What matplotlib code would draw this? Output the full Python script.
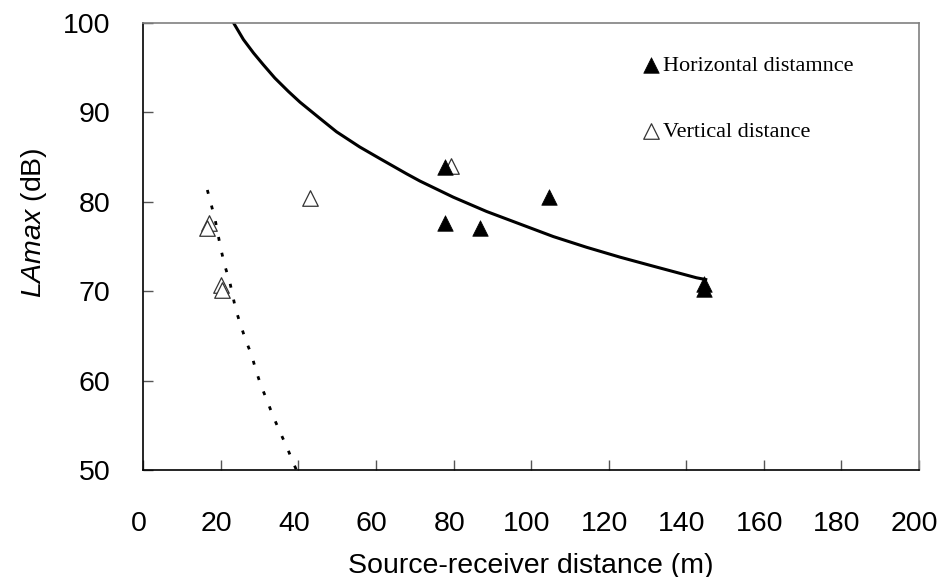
import numpy as np
import matplotlib
matplotlib.use("Agg")
import matplotlib.pyplot as plt
from matplotlib.transforms import ScaledTranslation

plt.rcParams["mathtext.fontset"] = "custom"
plt.rcParams["mathtext.it"] = "Liberation Sans:italic"

horiz_dist = [77.7, 104.6, 77.7, 86.9, 144.6, 144.6]
horiz_lamax = [83.9, 80.5, 77.6, 77.0, 70.8, 70.2]

vert_dist = [17.0, 16.5, 20.0, 20.3, 43.0, 79.3]
vert_lamax = [77.6, 77.0, 70.7, 70.1, 80.4, 84.0]

# trend lines
horiz_trend_x = [23.2, 25.8, 28.4, 30.9, 33.9, 37.4, 40.4, 45.5, 49.8, 55.8, 61.0,
                 67.9, 71.3, 79.9, 88.5, 97.1, 105.7, 114.3, 122.9, 131.4, 142.6, 145.0]
horiz_trend_y = [100.0, 98.1, 96.6, 95.3, 93.8, 92.3, 91.1, 89.3, 87.8, 86.1, 84.8,
                 83.1, 82.3, 80.5, 78.9, 77.5, 76.1, 74.9, 73.8, 72.8, 71.5, 71.3]

vert_trend_x = [16.5, 17.6, 18.5, 19.9, 20.9, 22.3, 23.8, 25.1, 26.5, 27.9, 29.0,
                30.3, 31.8, 33.4, 35.1, 37.0, 38.5, 39.5]
vert_trend_y = [81.3, 79.5, 78.0, 74.9, 73.0, 71.0, 68.0, 66.2, 64.4, 62.9, 61.2,
                59.5, 57.9, 56.1, 54.4, 52.6, 51.0, 50.0]

xticks = list(range(0, 201, 20))
yticks = list(range(50, 101, 10))

fig = plt.figure(figsize=(9.4, 5.77), dpi=100)
ax = fig.add_axes([0.1525, 0.1849, 0.8252, 0.7761])

ax.plot(horiz_trend_x, horiz_trend_y, color="black", lw=2.2, zorder=2)
ax.plot(vert_trend_x, vert_trend_y, color="black", lw=2.0, ls=(0, (1.4, 4.4)), zorder=2)

h2 = ax.scatter(vert_dist, vert_lamax, marker="^", s=125, facecolor="white",
                edgecolor="#333333", linewidth=0.9, zorder=3, label="Vertical distance")
h1 = ax.scatter(horiz_dist, horiz_lamax, marker="^", s=125, facecolor="black",
                edgecolor="black", linewidth=0.5, zorder=4, label="Horizontal distamnce")

ax.set_xlim(0, 200)
ax.set_ylim(50, 100)
ax.set_xticks(xticks)
ax.set_yticks(yticks)

for side in ["left", "bottom"]:
    ax.spines[side].set_color("black")
    ax.spines[side].set_linewidth(1.2)
for side in ["top", "right"]:
    ax.spines[side].set_color("#808080")
    ax.spines[side].set_linewidth(1.2)

ax.tick_params(direction="in", length=7, width=1, color="#555555", labelsize=20.5)
ax.tick_params(axis="x", pad=29)
ax.tick_params(axis="y", pad=23.5)

# Excel-style: x tick labels sit a little left of their ticks
shift = ScaledTranslation(-0.045, 0, fig.dpi_scale_trans)
for lab in ax.get_xticklabels():
    lab.set_family("Liberation Sans")
    lab.set_transform(lab.get_transform() + shift)
for lab in ax.get_yticklabels():
    lab.set_family("Liberation Sans")

ax.set_xlabel("Source-receiver distance (m)", fontsize=20.5,
              family="Liberation Sans", labelpad=11.5)
ax.set_ylabel(r"$\mathit{LAmax}$ (dB)", fontsize=20.5,
              family="Liberation Sans", labelpad=10)
ax.yaxis.label.set_y(0.5525)

ax.legend(handles=[h1, h2], loc="upper left", bbox_to_anchor=(0.6427, 0.926),
          frameon=False, scatterpoints=1, handlelength=0.8, handletextpad=0.15,
          labelspacing=2.03, borderpad=0, borderaxespad=0,
          prop={"family": "Liberation Serif", "size": 16})

fig.savefig("out.png", dpi=100)
